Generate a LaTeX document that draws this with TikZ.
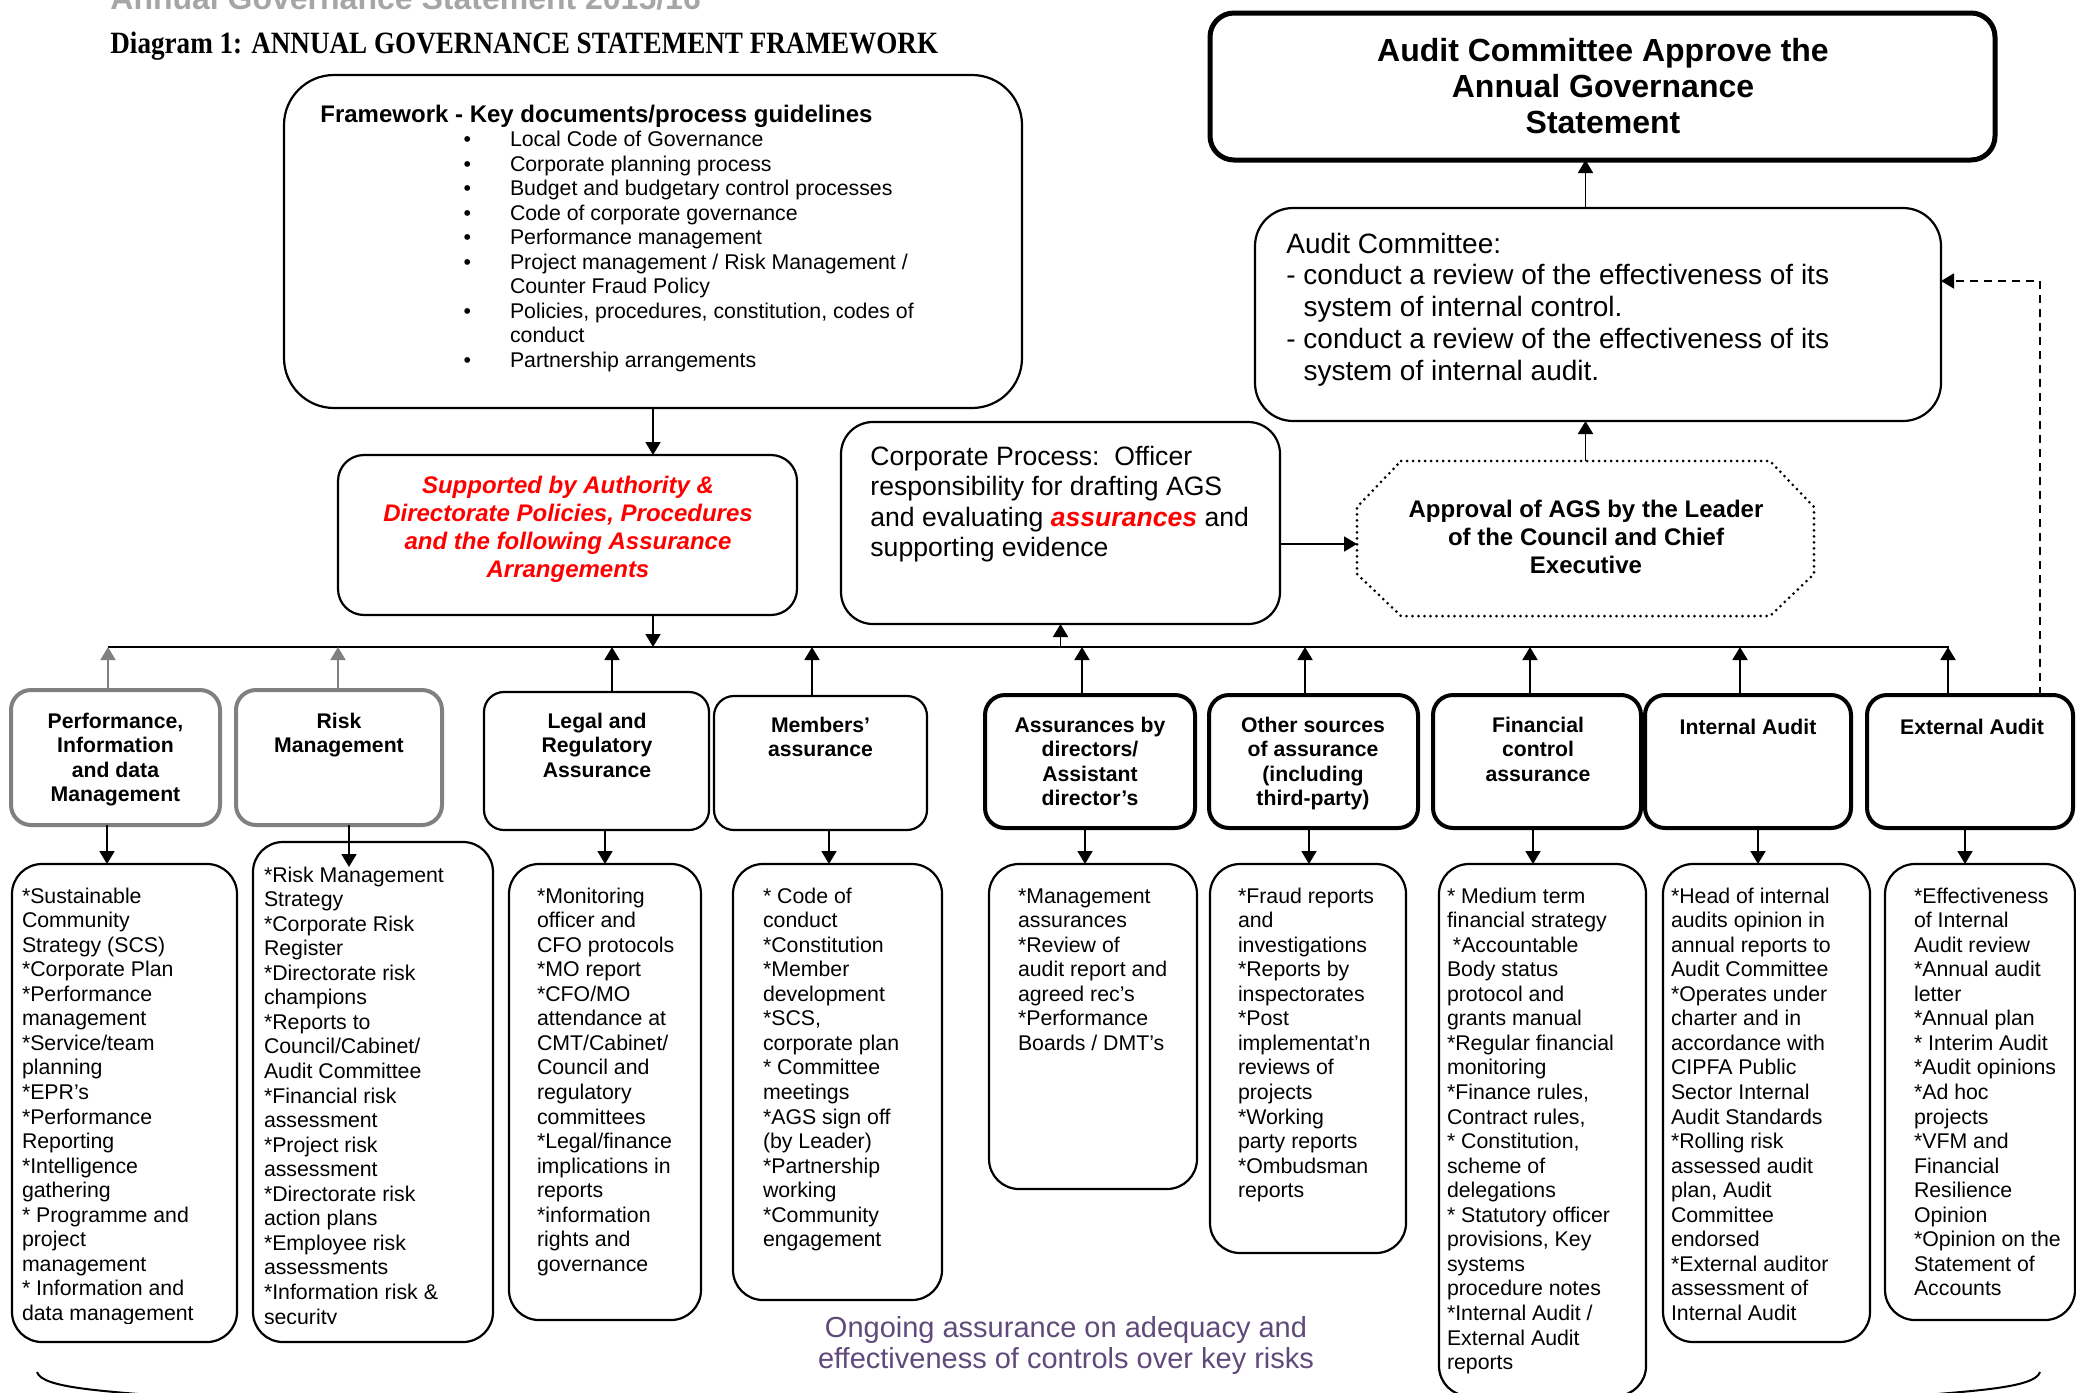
\documentclass[tikz,border=0pt]{standalone}
\usepackage{graphicx}
\usepackage{fontspec}
\setmainfont{Liberation Sans}
\newfontfamily\agstitlefont{Liberation Serif}
\usetikzlibrary{arrows.meta}
\definecolor{agsred}{RGB}{255,0,0}
\definecolor{agspurple}{RGB}{96,74,123}
\definecolor{agsgray}{RGB}{128,128,128}
\definecolor{titlegray}{RGB}{166,166,166}
\newcommand\agsfs[2]{\fontsize{#1}{#2}\selectfont}
\newcommand\agsbul{\leavevmode\llap{\textbullet\hspace{19.5pt}}}
\newcommand\mkbox[6]{\node[#2, inner sep=0pt, outer sep=0pt, minimum width={((#5)-(#3))*0.5pt}, minimum height={((#6)-(#4))*0.5pt}] (#1) at ({((#3)+(#5))/2},{((#4)+(#6))/2}) {};}
\begin{document}
\begin{tikzpicture}[x=0.5pt, y=-0.5pt,
  thinbox/.style={draw, line width=1.1pt},
  lstbox/.style={draw, line width=1.1pt, rounded corners=15pt},
  thinhdr/.style={draw, line width=1.1pt, rounded corners=10pt},
  thickhdr/.style={draw, line width=2pt, rounded corners=10pt},
  grayhdr/.style={draw=agsgray, line width=2pt, rounded corners=10pt},
  arr/.style={-{Triangle[length=6.5pt,width=7.5pt]}, line width=0.9pt},
  grayarr/.style={-{Triangle[length=6.5pt,width=7.5pt]}, line width=0.9pt, draw=agsgray, fill=agsgray},
  dasharr/.style={-{Triangle[length=6.5pt,width=7.5pt]}, line width=0.9pt, dash pattern=on 4pt off 3pt},
  dotline/.style={line width=1.5pt, line cap=round, dash pattern=on 0pt off 3pt},
  ltxt/.style={anchor=base west, inner sep=0pt, outer sep=0pt, font=\agsfs{10.65}{12.28}},
  htxt/.style={anchor=base, inner sep=0pt, outer sep=0pt, font=\bfseries\agsfs{10.6}{12.25}},
]
\useasboundingbox (0,0) rectangle (2076,1392);

% titles
\node[anchor=base west, inner sep=0pt, text=titlegray, font=\bfseries\agsfs{16}{19}] (ttl0) at (110,10) {Annual Governance Statement 2015/16};
\node[anchor=base west, inner sep=0pt, font=\agstitlefont\bfseries\agsfs{15.5}{18}] (ttl) at (110,53) {\scalebox{0.875}[1]{Diagram 1: ANNUAL GOVERNANCE STATEMENT FRAMEWORK}};

% upper boxes
\mkbox{fw}{thinbox, rounded corners=25pt}{284}{75}{1022}{408}
\mkbox{apv}{draw, line width=2.5pt, rounded corners=12pt}{1210}{13}{1995}{160}
\mkbox{ac}{thinbox, rounded corners=19pt}{1255}{208}{1941}{421}
\mkbox{sup}{thinbox, rounded corners=13pt}{338}{455}{797}{615}
\mkbox{corp}{thinbox, rounded corners=16pt}{841}{422}{1280}{624}
\mkbox{appr}{}{1357}{461}{1814}{616}
\draw[dotline] ([xshift=22pt]appr.north west) -- ([xshift=-22pt]appr.north east) -- ([yshift=-23pt]appr.north east) -- ([yshift=21pt]appr.south east) -- ([xshift=-22pt]appr.south east) -- ([xshift=22pt]appr.south west) -- ([yshift=21pt]appr.south west) -- ([yshift=-23pt]appr.north west) -- cycle;

% upper texts
\node[anchor=base west, inner sep=0pt, font=\bfseries\agsfs{12}{14}] (fwh) at (320,122) {Framework - Key documents/process guidelines};
\node[ltxt] (fwl) at (510,146.5) {\parbox[t]{400pt}{\raggedright
\agsbul Local Code of Governance\\
\agsbul Corporate planning process\\
\agsbul Budget and budgetary control processes\\
\agsbul Code of corporate governance\\
\agsbul Performance management\\
\agsbul Project management / Risk Management /\\
Counter Fraud Policy\\
\agsbul Policies, procedures, constitution, codes of\\
conduct\\
\agsbul Partnership arrangements}};

\node[anchor=base, inner sep=0pt, font=\bfseries\agsfs{16}{18}] (apvt) at (1603,61) {\parbox[t]{380pt}{\centering Audit Committee Approve the\\Annual Governance\\Statement}};

\node[anchor=base west, inner sep=0pt, font=\agsfs{14}{15.9}] (act) at (1286,253) {\parbox[t]{320pt}{\raggedright Audit Committee:\\
- conduct a review of the effectiveness of its\\
\hphantom{- }system of internal control.\\
- conduct a review of the effectiveness of its\\
\hphantom{- }system of internal audit.}};

\node[anchor=base, inner sep=0pt, text=agsred, font=\bfseries\itshape\agsfs{12}{14}] (supt) at (568,493) {\parbox[t]{220pt}{\centering Supported by Authority \&\\Directorate Policies, Procedures\\and the following Assurance\\Arrangements}};

\node[anchor=base west, inner sep=0pt, font=\agsfs{13.3}{15.3}] (corpt) at (870,465) {\parbox[t]{220pt}{\raggedright Corporate Process:\ \ Officer\\responsibility for drafting AGS\\and evaluating \textcolor{agsred}{\bfseries\itshape assurances} and\\supporting evidence}};

\node[anchor=base, inner sep=0pt, font=\bfseries\agsfs{12}{14.2}] (apprt) at (1586,517) {\parbox[t]{200pt}{\centering Approval of AGS by the Leader\\of the Council and Chief\\Executive}};

% header boxes
\mkbox{h1}{grayhdr}{11}{690}{220}{825}
\mkbox{h2}{grayhdr}{236}{690}{442}{825}
\mkbox{h3}{thinhdr}{484}{692}{709}{830}
\mkbox{h4}{thinhdr}{714}{696}{927}{830}
\mkbox{h5}{thickhdr}{985}{695}{1195}{828}
\mkbox{h6}{thickhdr}{1209}{695}{1418}{828}
\mkbox{h7}{thickhdr}{1433}{695}{1641}{828}
\mkbox{h8}{thickhdr}{1645}{695}{1851}{828}
\mkbox{h9}{thickhdr}{1867}{695}{2073}{828}

\node[htxt] (th1) at (115.5,728) {\parbox[t]{100pt}{\centering Performance,\\Information\\and data\\Management}};
\node[htxt] (th2) at (339,728) {\parbox[t]{100pt}{\centering Risk\\Management}};
\node[htxt] (th3) at (597,728) {\parbox[t]{100pt}{\centering Legal and\\Regulatory\\Assurance}};
\node[htxt] (th4) at (820.5,732) {\parbox[t]{100pt}{\centering Members’\\assurance}};
\node[htxt] (th5) at (1090,732) {\parbox[t]{100pt}{\centering Assurances by\\directors/\\Assistant\\director’s}};
\node[htxt] (th6) at (1313,732) {\parbox[t]{100pt}{\centering Other sources\\of assurance\\(including\\third-party)}};
\node[htxt] (th7) at (1538,732) {\parbox[t]{100pt}{\centering Financial\\control\\assurance}};
\node[htxt] (th8) at (1748,734) {\parbox[t]{100pt}{\centering Internal Audit}};
\node[htxt] (th9) at (1972,734) {\parbox[t]{100pt}{\centering External Audit}};

% list boxes
\mkbox{l1}{lstbox}{12}{864}{237}{1342}
\mkbox{l2}{lstbox}{253}{842}{493}{1342}
\mkbox{l3}{lstbox}{509}{864}{701}{1320}
\mkbox{l4}{lstbox}{733}{864}{942}{1300}
\mkbox{l5}{lstbox}{989}{864}{1197}{1189}
\mkbox{l6}{lstbox}{1210}{864}{1406}{1253}
\mkbox{l7}{lstbox}{1439}{864}{1646}{1396}
\mkbox{l8}{lstbox}{1663}{864}{1870}{1342}
\mkbox{l9}{lstbox}{1885}{864}{2075}{1320}

\begin{scope}
\clip (0,700) rectangle (520,1323);
\node[ltxt] (t1) at (22,903) {\parbox[t]{120pt}{\raggedright *Sustainable\\Community\\Strategy (SCS)\\{}*Corporate Plan\\{}*Performance\\management\\{}*Service/team\\planning\\{}*EPR’s\\{}*Performance\\Reporting\\{}*Intelligence\\gathering\\{}* Programme and\\project\\management\\{}* Information and\\data management}};
\node[ltxt] (t2) at (264,882) {\parbox[t]{120pt}{\raggedright *Risk Management\\Strategy\\{}*Corporate Risk\\Register\\{}*Directorate risk\\champions\\{}*Reports to\\Council/Cabinet/\\Audit Committee\\{}*Financial risk\\assessment\\{}*Project risk\\assessment\\{}*Directorate risk\\action plans\\{}*Employee risk\\assessments\\{}*Information risk \&\\security}};
\end{scope}
\node[ltxt] (t3) at (537,903) {\parbox[t]{100pt}{\raggedright *Monitoring\\officer and\\CFO protocols\\{}*MO report\\{}*CFO/MO\\attendance at\\CMT/Cabinet/\\Council and\\regulatory\\committees\\{}*Legal/finance\\implications in\\reports\\{}*information\\rights and\\governance}};
\node[ltxt] (t4) at (763,903) {\parbox[t]{100pt}{\raggedright * Code of\\conduct\\{}*Constitution\\{}*Member\\development\\{}*SCS,\\corporate plan\\{}* Committee\\meetings\\{}*AGS sign off\\(by Leader)\\{}*Partnership\\working\\{}*Community\\engagement}};
\node[ltxt] (t5) at (1018,903) {\parbox[t]{100pt}{\raggedright *Management\\assurances\\{}*Review of\\audit report and\\agreed rec’s\\{}*Performance\\Boards / DMT’s}};
\node[ltxt] (t6) at (1238,903) {\parbox[t]{100pt}{\raggedright *Fraud reports\\and\\investigations\\{}*Reports by\\inspectorates\\{}*Post\\implementat’n\\reviews of\\projects\\{}*Working\\party reports\\{}*Ombudsman\\reports}};
\node[ltxt] (t7) at (1447,903) {\parbox[t]{110pt}{\raggedright * Medium term\\financial strategy\\\hspace*{0.28em}*Accountable\\Body status\\protocol and\\grants manual\\{}*Regular financial\\monitoring\\{}*Finance rules,\\Contract rules,\\{}* Constitution,\\scheme of\\delegations\\{}* Statutory officer\\provisions, Key\\systems\\procedure notes\\{}*Internal Audit /\\External Audit\\reports}};
\node[ltxt] (t8) at (1671,903) {\parbox[t]{110pt}{\raggedright *Head of internal\\audits opinion in\\annual reports to\\Audit Committee\\{}*Operates under\\charter and in\\accordance with\\CIPFA Public\\Sector Internal\\Audit Standards\\{}*Rolling risk\\assessed audit\\plan, Audit\\Committee\\endorsed\\{}*External auditor\\assessment of\\Internal Audit}};
\node[ltxt] (t9) at (1914,903) {\parbox[t]{100pt}{\raggedright *Effectiveness\\of Internal\\Audit review\\{}*Annual audit\\letter\\{}*Annual plan\\{}* Interim Audit\\{}*Audit opinions\\{}*Ad hoc\\projects\\{}*VFM and\\Financial\\Resilience\\Opinion\\{}*Opinion on the\\Statement of\\Accounts}};

% ongoing text
\node[anchor=base, inner sep=0pt, text=agspurple, font=\agsfs{14.5}{15.5}] (ong) at (1066,1337) {\parbox[t]{300pt}{\centering Ongoing assurance on adequacy and\\effectiveness of controls over key risks}};

% bus
\coordinate (bus) at (108,647);
\coordinate (busR) at (1949,647);
\draw[line width=1pt] (bus) -- (busR);

% connectors
\draw[arr] (fw.south) -- (sup.north -| fw.south);
\draw[arr] (sup.south -| fw.south) -- (bus -| fw.south);
\draw[arr] (bus -| corp.south) -- (corp.south);
\coordinate (ay) at (0,544);
\draw[arr] (corp.east |- ay) -- (appr.west |- ay);
\draw[arr] (appr.north) -- (ac.south -| appr.north);
\draw[arr] (ac.north -| appr.north) -- (apv.south -| appr.north);
\coordinate (dtop) at (2040,281);
\draw[dasharr] (h9.north -| dtop) -- (dtop) -- (ac.east |- dtop);

% up to bus
\coordinate (u1) at (108,0);
\coordinate (u2) at (338,0);
\draw[grayarr] (h1.north -| u1) -- (bus -| u1);
\draw[grayarr] (h2.north -| u2) -- (bus -| u2);
\foreach \h/\x in {h3/612, h4/812, h5/1082, h6/1305, h7/1530, h8/1740, h9/1948} {
  \coordinate (ux) at (\x,0);
  \draw[arr] (\h.north -| ux) -- (bus -| ux);
}

% down to lists
\coordinate (d2) at (349,867);
\draw[arr] (h2.south -| d2) -- (d2);
\foreach \h/\l/\x in {h1/l1/107, h3/l3/605, h4/l4/829, h5/l5/1085, h6/l6/1309, h7/l7/1533, h8/l8/1758, h9/l9/1965} {
  \coordinate (dx) at (\x,0);
  \draw[arr] (\h.south -| dx) -- (\l.north -| dx);
}

% brace at bottom
\draw[line width=1pt] (37,1372) .. controls (42,1388) and (100,1391) .. (190,1398);
\draw[line width=1pt] (2040,1372) .. controls (2035,1388) and (1975,1391) .. (1885,1398);
\end{tikzpicture}
\end{document}
